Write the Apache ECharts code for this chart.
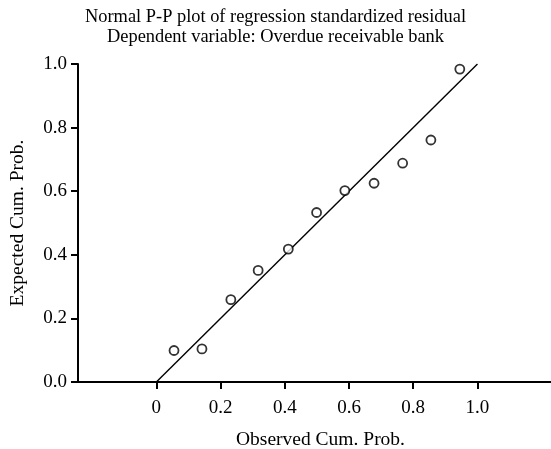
<!DOCTYPE html>
<html>
<head>
<meta charset="utf-8">
<script src="https://cdn.jsdelivr.net/npm/echarts@6/dist/echarts.min.js"></script>
<style>html,body{margin:0;padding:0;background:#fff}#c{width:551px;height:449px}</style>
</head>
<body>
<div id="c"></div>
<script>
const observed = [0.055, 0.142, 0.232, 0.317, 0.411, 0.499, 0.587, 0.678, 0.767, 0.855, 0.945];
const expected = [0.099, 0.104, 0.259, 0.351, 0.418, 0.533, 0.602, 0.625, 0.688, 0.761, 0.984];
const refLine = [[0, 0], [1, 1]];
const xTickValues = [0, 0.2, 0.4, 0.6, 0.8, 1.0];
const xTickLabels = ['0', '0.2', '0.4', '0.6', '0.8', '1.0'];
const titleLines = ['Normal P-P plot of regression standardized residual', 'Dependent variable: Overdue receivable bank'];
const xName = 'Observed Cum. Prob.';
const yName = 'Expected Cum. Prob.';

const font = 'Liberation Serif';
const chart = echarts.init(document.getElementById('c'), null, {renderer: 'canvas'});
chart.setOption({
  animation: false,
  backgroundColor: '#fff',
  title: {
    text: titleLines.join('\n'),
    left: 'center',
    top: 2,
    textStyle: {fontFamily: font, fontSize: 18.4, fontWeight: 'normal', color: '#000', lineHeight: 20}
  },
  grid: {left: 78, right: 0, top: 64, bottom: 67, containLabel: false, outerBoundsMode: 'none'},
  xAxis: {
    type: 'value',
    min: -0.244,
    max: 1.229,
    name: xName,
    nameLocation: 'middle',
    nameGap: 48,
    nameTextStyle: {fontFamily: font, fontSize: 19.5, color: '#000', padding: [0, 0, 0, 12]},
    axisLine: {show: true, onZero: false, lineStyle: {color: '#000', width: 2}},
    axisTick: {show: true, customValues: xTickValues, length: 7, lineStyle: {color: '#000', width: 2}},
    axisLabel: {
      customValues: xTickValues,
      margin: 17,
      fontFamily: font, fontSize: 19, color: '#000',
      formatter: v => xTickLabels[xTickValues.findIndex(t => Math.abs(t - v) < 1e-6)] ?? ''
    },
    splitLine: {show: false}
  },
  yAxis: {
    type: 'value',
    min: 0,
    max: 1,
    interval: 0.2,
    name: yName,
    nameLocation: 'middle',
    nameGap: 50,
    nameTextStyle: {fontFamily: font, fontSize: 19.5, color: '#000', padding: [0, 0, 0, 0]},
    axisLine: {show: true, onZero: false, lineStyle: {color: '#000', width: 2}},
    axisTick: {show: true, length: 7, lineStyle: {color: '#000', width: 2}},
    axisLabel: {margin: 11, fontFamily: font, fontSize: 19, color: '#000', formatter: v => v.toFixed(1)},
    splitLine: {show: false}
  },
  series: [
    {
      type: 'line',
      data: refLine,
      symbol: 'none',
      lineStyle: {color: '#000', width: 1.4},
      silent: true,
      z: 1
    },
    {
      type: 'scatter',
      data: observed.map((x, i) => [x, expected[i]]),
      symbol: 'circle',
      symbolSize: 9,
      itemStyle: {color: '#fff', borderColor: '#000', borderWidth: 1.8},
      z: 2
    }
  ]
});
</script>
</body>
</html>
